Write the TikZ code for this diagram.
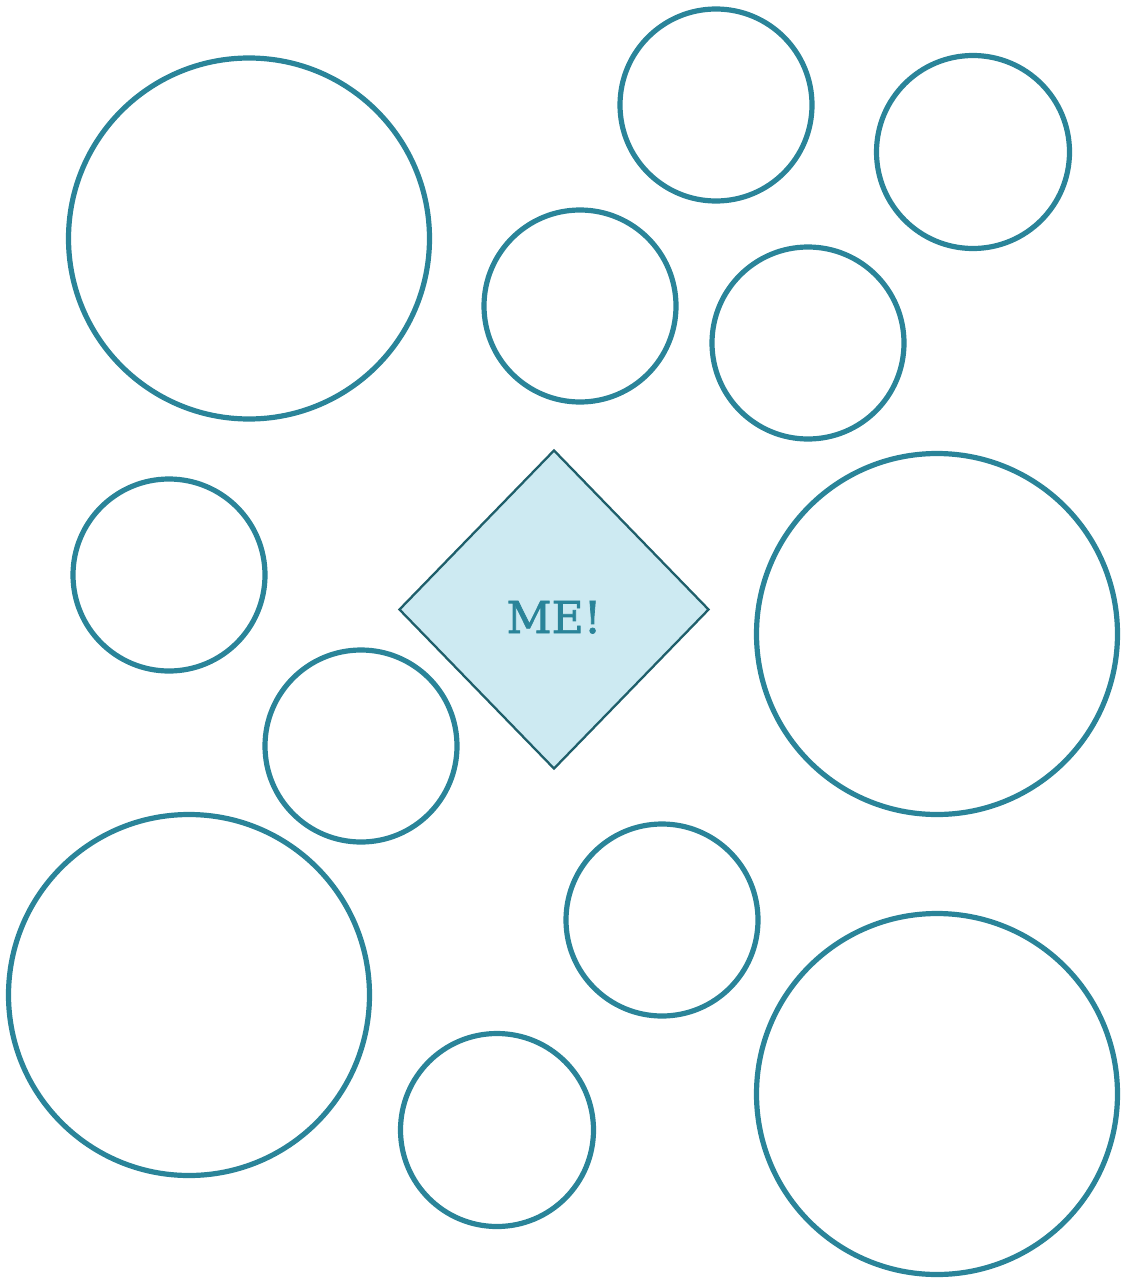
\documentclass[tikz,border=0pt]{standalone}
\usepackage{fontspec}
\newfontfamily\slab[FakeBold=1.6]{DejaVu Serif}
\usetikzlibrary{shapes.geometric}
\definecolor{teal1}{HTML}{2A8499}
\definecolor{dfill}{HTML}{CDEAF2}
\definecolor{dline}{HTML}{1F5F6B}
\tikzset{
  bubble/.style={circle, draw=teal1, line width=5.2pt, fill=white, inner sep=0pt, minimum size=#1},
  mebox/.style={diamond, draw=dline, line width=2.3pt, fill=dfill, inner sep=0pt, minimum width=310pt, minimum height=319pt}
}
\begin{document}
\begin{tikzpicture}[x=1pt,y=-1pt]
\useasboundingbox (0,0) rectangle (1124,1279);
\node[bubble=361pt] (c1) at (249,238.5) {};
\node[bubble=192pt] (c2) at (716,105) {};
\node[bubble=193pt] (c3) at (973,152) {};
\node[bubble=192pt] (c4) at (580,306) {};
\node[bubble=192pt] (c5) at (808,343) {};
\node[bubble=192pt] (c6) at (169,575) {};
\node[bubble=192pt] (c7) at (361,746) {};
\node[bubble=361pt] (c8) at (937,634) {};
\node[bubble=361pt] (c9) at (189,995) {};
\node[bubble=192pt] (c10) at (662,920) {};
\node[bubble=193pt] (c11) at (497,1130) {};
\node[bubble=361pt] (c12) at (937,1094) {};
\node[mebox] (me) at (554,609.5) {};
\node[text=teal1, font=\slab\fontsize{44}{52}\selectfont, inner sep=0pt, anchor=base] (metext) at (554,633) {ME!};
\end{tikzpicture}
\end{document}
